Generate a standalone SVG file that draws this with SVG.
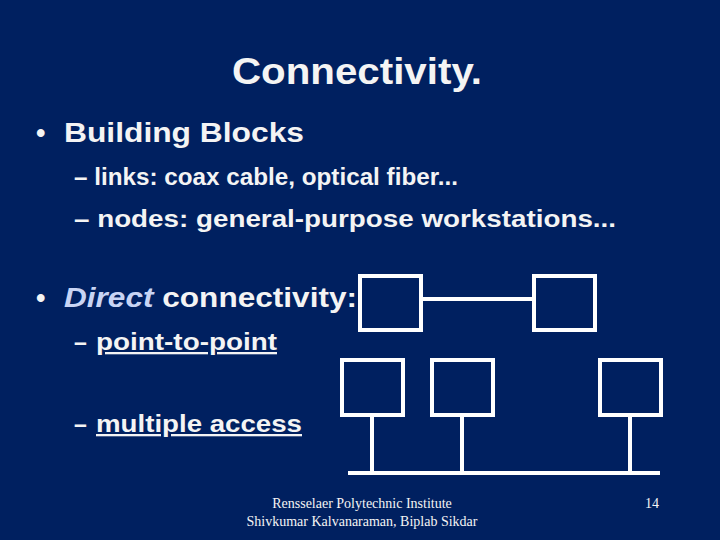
<svg xmlns="http://www.w3.org/2000/svg" width="720" height="540" viewBox="0 0 720 540">
<style>
text{font-family:"Liberation Sans",Arial,sans-serif;fill:#f4f4f4}
.b{font-size:27px;font-weight:bold}.s{font-size:23px;font-weight:bold}
.n rect{fill:none;stroke:#fff;stroke-width:4}
.c line{stroke:#fff;stroke-width:4}
.f{font-family:"Liberation Serif","Times New Roman",serif;font-size:14px;font-weight:normal}
</style>
<rect width="720" height="540" fill="#002060"/>
<text x="232" y="84" font-size="37" font-weight="bold" textLength="250" lengthAdjust="spacingAndGlyphs">Connectivity.</text>
<text x="36" y="142" class="b">•</text>
<text x="64" y="142" class="b" textLength="240" lengthAdjust="spacingAndGlyphs">Building Blocks</text>
<text x="74" y="185" class="s" textLength="384" lengthAdjust="spacingAndGlyphs">– links: coax cable, optical fiber...</text>
<text x="74" y="227" class="s" textLength="542" lengthAdjust="spacingAndGlyphs">– nodes: general-purpose workstations...</text>
<text x="36" y="307" class="b">•</text>
<text x="64" y="307" class="b" textLength="293" lengthAdjust="spacingAndGlyphs"><tspan font-style="italic" fill="#c8d4f4">Direct</tspan> connectivity:</text>
<text x="74" y="350" class="s">–</text>
<text x="96" y="350" class="s" text-decoration="underline" textLength="181" lengthAdjust="spacingAndGlyphs">point-to-point</text>
<text x="74" y="432" class="s">–</text>
<text x="96" y="432" class="s" text-decoration="underline" textLength="206" lengthAdjust="spacingAndGlyphs">multiple access</text>
<g class="c">
<line x1="421" y1="299" x2="534" y2="299"/>
<line x1="372" y1="415" x2="372" y2="474"/>
<line x1="462" y1="415" x2="462" y2="474"/>
<line x1="630" y1="415" x2="630" y2="474"/>
<line x1="348" y1="473" x2="660" y2="473"/>
</g>
<g id="p1" class="n"><rect x="360" y="276" width="61" height="54"/></g>
<g id="p2" class="n"><rect x="534" y="276" width="61" height="54"/></g>
<g id="m1" class="n"><rect x="342" y="360" width="61" height="55"/></g>
<g id="m2" class="n"><rect x="432" y="360" width="61" height="55"/></g>
<g id="m3" class="n"><rect x="600" y="360" width="61" height="55"/></g>
<text x="362" y="508" text-anchor="middle" class="f">Rensselaer Polytechnic Institute</text>
<text x="362" y="526" text-anchor="middle" class="f">Shivkumar Kalvanaraman, Biplab Sikdar</text>
<text x="652" y="508" text-anchor="middle" class="f">14</text>
</svg>
